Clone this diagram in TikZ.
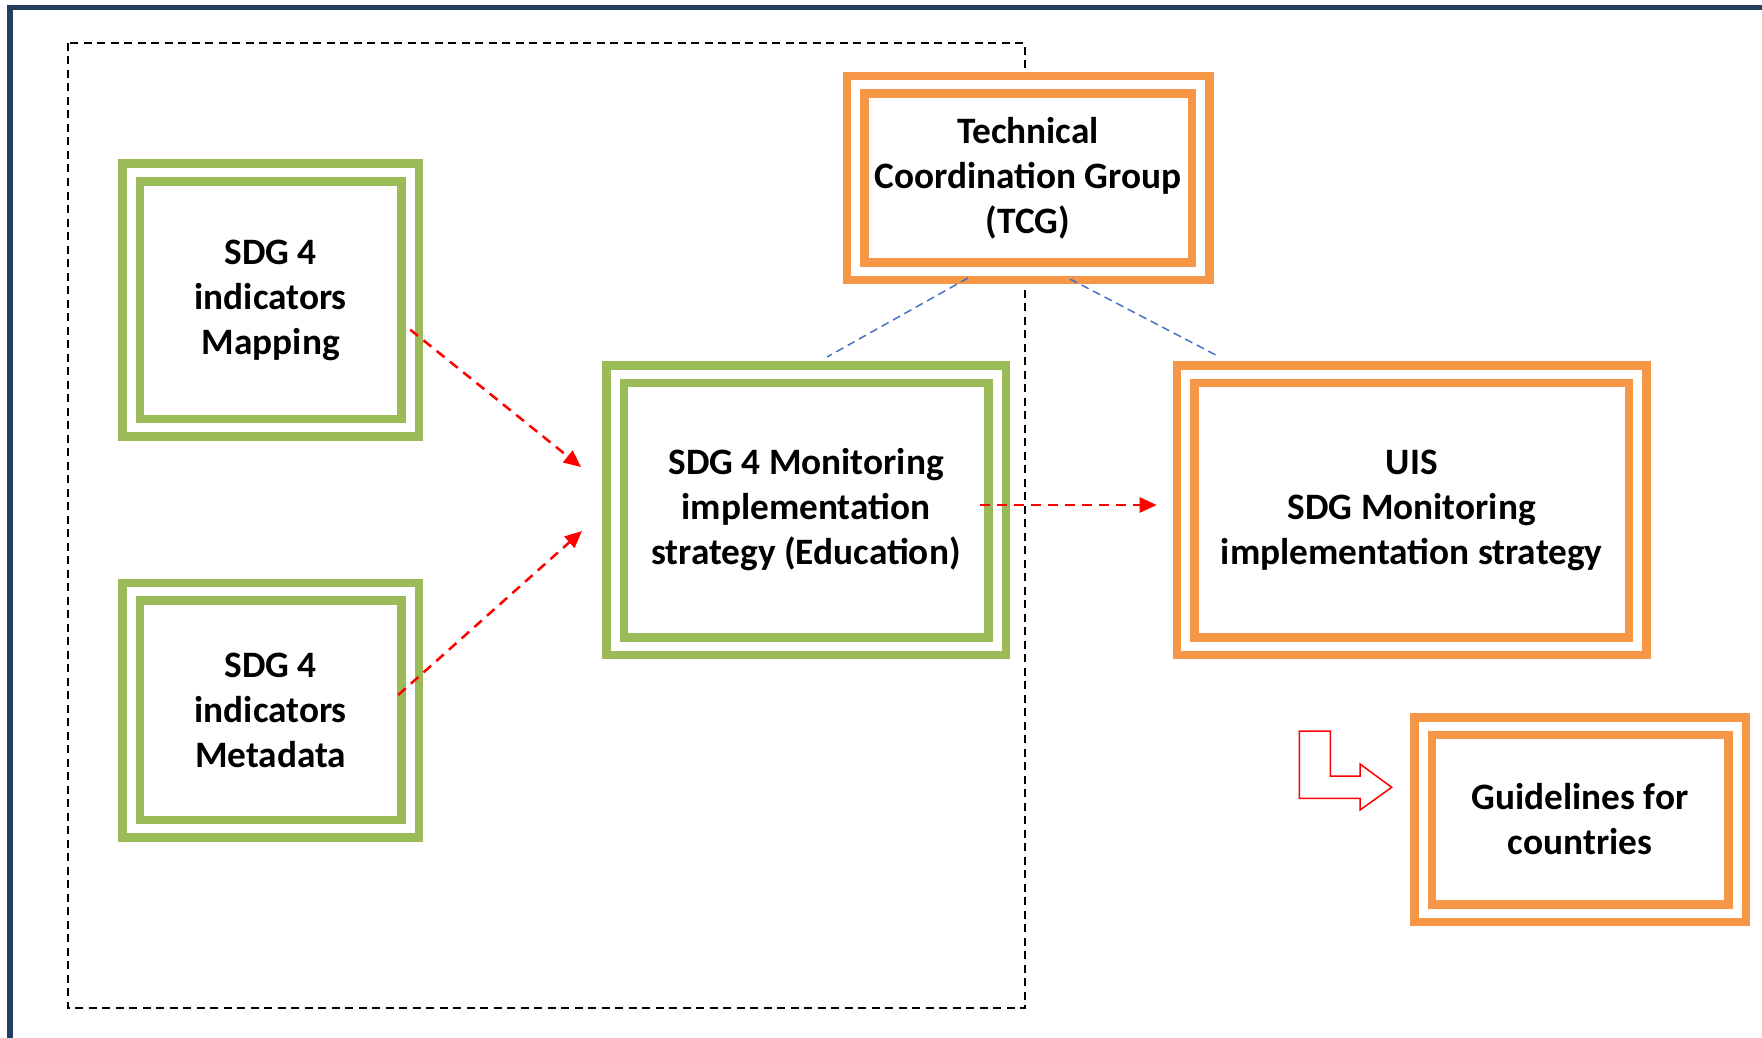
\documentclass[tikz,border=0pt]{standalone}
\usepackage{fontspec}
\setmainfont{Carlito}
\usetikzlibrary{arrows.meta,calc}
\definecolor{SDGGreen}{RGB}{155,187,89}
\definecolor{UISOrange}{RGB}{247,150,70}
\definecolor{FrameBlue}{RGB}{36,62,96}
\definecolor{LinkBlue}{RGB}{68,114,196}

\tikzset{
  dbox/.style={fill=white, double=white, line width=8.5pt, double distance=9pt,
    inner sep=0pt, outer sep=0pt, align=center,
    font=\bfseries\fontsize{37.3}{45}\selectfont},
  greenbox/.style={dbox, draw=SDGGreen},
  orangebox/.style={dbox, draw=UISOrange},
  flow/.style={red, line width=2.5pt, dash pattern=on 10pt off 7pt,
    -{Triangle[length=17pt,width=15pt]}},
  link/.style={LinkBlue, line width=1.5pt, dash pattern=on 8pt off 5pt}
}

\begin{document}
\begin{tikzpicture}[x=1pt, y=-1pt]
    \useasboundingbox (0,0) rectangle (1762,1038);
    \clip (0,0) rectangle (1762,1038);
    \fill[white] (0,0) rectangle (1762,1038);

    % Outer frame
    \draw[FrameBlue, line width=5.5pt] (10,7.5) rectangle (1775,1040.5);

    % Education part
    \draw[line width=2pt, dash pattern=on 8pt off 5.5pt] (68,43) rectangle (1025,1008);

    % Boxes
    \node[greenbox, minimum width=279pt, minimum height=255pt] (map) at (270.7,300)
      {SDG 4\\indicators\\Mapping};
    \node[greenbox, minimum width=279pt, minimum height=237pt] (meta) at (270.7,710)
      {SDG 4\\indicators\\Metadata};
    \node[greenbox, minimum width=382pt, minimum height=272pt] (edu) at (806,510)
      {SDG 4 Monitoring\\implementation\\strategy (Education)};
    \node[orangebox, minimum width=345pt, minimum height=186pt] (tcg) at (1028,178)
      {Technical\\Coordination Group\\(TCG)};
    \node[orangebox, minimum width=452pt, minimum height=272pt] (uis) at (1411.7,510)
      {UIS\\SDG Monitoring\\implementation strategy};
    \node[orangebox, minimum width=314pt, minimum height=187pt] (guide) at (1580,819.5)
      {Guidelines for\\countries};

    % Flows
    \draw[flow] (map.-12) -- ($(edu.west)+(-34,-43)$);
    \draw[flow] ($(meta.east)+(-12,-15)$) -- ($(edu.west)+(-33,21)$);
    \draw[flow] ($(edu.east)+(-17,-5)$) -- ($(uis.west)+(-29,-5)$);

    % Links to TCG
    \draw[link] ($(tcg.south)+(-60,7)$) -- ($(edu.north)+(21,-17)$);
    \draw[link] ($(tcg.south)+(42,8)$) -- ($(uis.north)+(-192,-17)$);

    % Turn arrow
    \draw[red, line width=1.5pt, fill=white] (1299.3,731) -- (1330.3,731)
      -- (1330.3,776) -- (1360,776) -- (1360,764) -- (1391.7,787.3)
      -- (1360,810) -- (1360,798.3) -- (1299.3,798.3) -- cycle;
\end{tikzpicture}
\end{document}
